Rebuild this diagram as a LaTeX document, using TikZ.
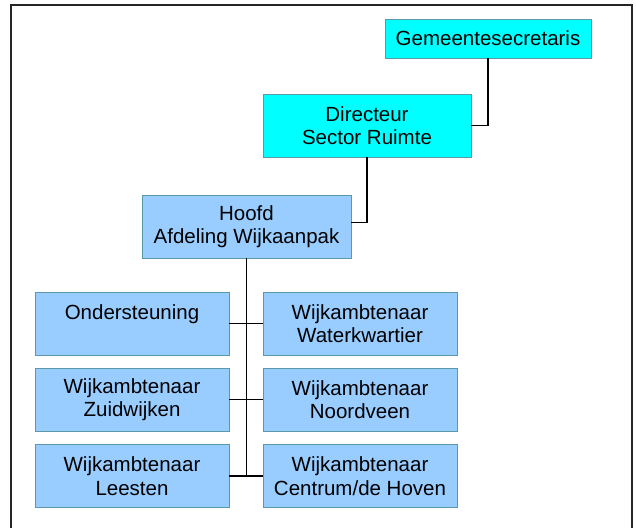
\documentclass[tikz,border=0pt]{standalone}
\usepackage{fontspec}
\setmainfont{Liberation Sans}
\begin{document}
\begin{tikzpicture}[x=1pt,y=-1pt,
  unit/.style={draw=boxedge, line width=0.8pt, rectangle, align=center,
    inner sep=0pt, font=\fontsize{20.5}{23.5}\selectfont},
  topunit/.style={unit, fill=topcyan},
  subunit/.style={unit, fill=unitblue, minimum width=194, minimum height=63},
  link/.style={line width=1.2pt, black}]
\definecolor{topcyan}{HTML}{00FFFF}
\definecolor{unitblue}{HTML}{99CCFF}
\definecolor{boxedge}{HTML}{5A9AA8}
\useasboundingbox (0,0) rectangle (636,527);
% outer frame, open at the bottom of the page
\draw[line width=1.4pt, black!85] (11,560) -- (11,5) -- (632,5) -- (632,560);

\node[topunit, minimum width=206, minimum height=39] (gs) at (488,38.5) {Gemeentesecretaris};
\node[topunit, minimum width=208, minimum height=63] (dir) at (367,125.5) {Directeur\\Sector Ruimte};
\node[unit, fill=unitblue, minimum width=209, minimum height=63] (hfd) at (246.5,226.5) {Hoofd\\Afdeling Wijkaanpak};

\node[subunit] (l1) at (132,323.5) {Ondersteuning\\\mbox{}};
\node[subunit] (r1) at (360,323.5) {Wijkambtenaar\\Waterkwartier};
\node[subunit] (l2) at (132,399.5) {Wijkambtenaar\\Zuidwijken};
\node[subunit] (r2) at (360,399.5) {Wijkambtenaar\\Noordveen};
\node[subunit] (l3) at (132,476) {Wijkambtenaar\\Leesten};
\node[subunit] (r3) at (360,476) {Wijkambtenaar\\Centrum/de Hoven};

\coordinate (spineend) at (hfd.south |- l3.east);
\draw[link] (gs.south) |- (dir.east);
\draw[link] (dir.south) |- ([yshift=4pt]hfd.east);
\draw[link] (hfd.south) -- (spineend);
\draw[link] (l1.east) -- (r1.west);
\draw[link] (l2.east) -- (r2.west);
\draw[link] (l3.east) -- (r3.west);
\end{tikzpicture}
\end{document}
